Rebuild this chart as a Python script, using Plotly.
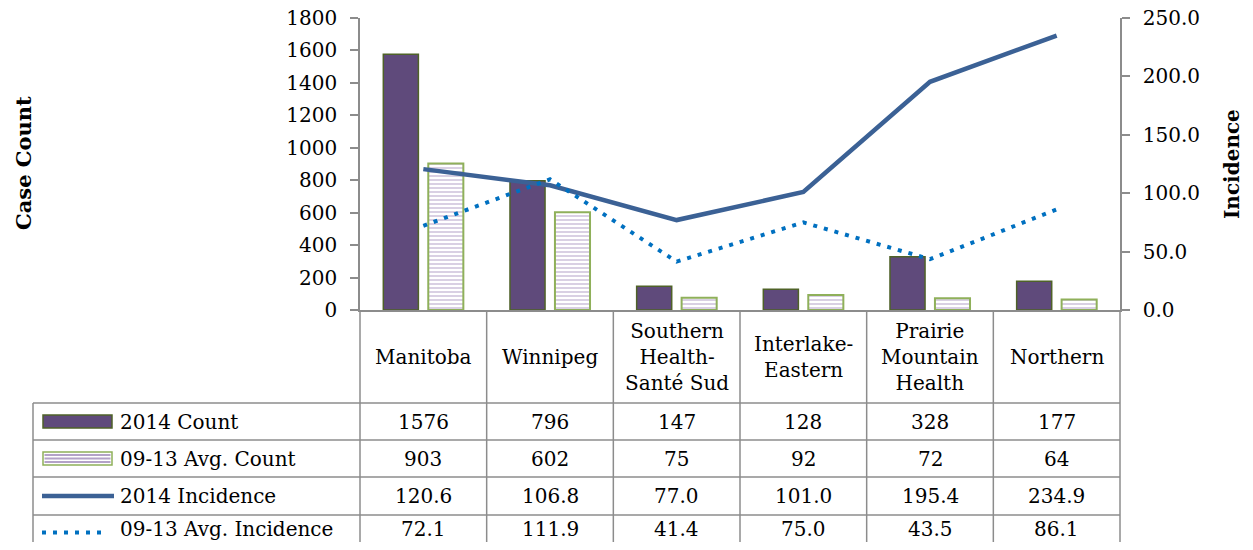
import plotly.graph_objects as go

# ---------------- data ----------------
categories = ["Manitoba", "Winnipeg", "Southern Health-Santé Sud",
              "Interlake-Eastern", "Prairie Mountain Health", "Northern"]
header_labels = ["Manitoba", "Winnipeg", "Southern<br>Health-<br>Santé Sud",
                 "Interlake-<br>Eastern", "Prairie<br>Mountain<br>Health", "Northern"]
count_2014 = [1576, 796, 147, 128, 328, 177]
count_avg = [903, 602, 75, 92, 72, 64]
inc_2014 = [120.6, 106.8, 77.0, 101.0, 195.4, 234.9]
inc_avg = [72.1, 111.9, 41.4, 75.0, 43.5, 86.1]
series_names = ["2014 Count", "09-13 Avg. Count", "2014 Incidence", "09-13 Avg. Incidence"]
left_ticks = [0, 200, 400, 600, 800, 1000, 1200, 1400, 1600, 1800]
right_ticks = [0, 50, 100, 150, 200, 250]

# ---------------- style ----------------
FONT = "DejaVu Serif"
PURPLE = "#5F4A7B"
PURPLE_EDGE = "#4F6228"
LAV = "#B3A2C7"
GREEN_EDGE = "#8FB05A"
LINE1 = "#3B6195"
LINE2 = "#0070C0"
GRID = "#8C8C8C"

# page offset (browser body margin)
OFF = 8
PAGE_W, PAGE_H = 1253, 550
W, H = PAGE_W - 2 * OFF, PAGE_H - 2 * OFF
# plot area in page pixels
PL, PR, PT, PB = 360, 1120, 18, 310
L = PL - OFF
T = PT - OFF
PW, PH = PR - PL, PB - PT
R = W - L - PW
B = H - T - PH


def X(px):
    return (px - PL) / PW


def Y(py):
    return (PB - py) / PH


fig = go.Figure()
fig.add_trace(go.Bar(
    x=categories, y=count_2014, name=series_names[0],
    marker=dict(color=PURPLE, line=dict(color=PURPLE_EDGE, width=1.5)),
))
fig.add_trace(go.Bar(
    x=categories, y=count_avg, name=series_names[1],
    marker=dict(color="white", line=dict(color=GREEN_EDGE, width=2),
                pattern=dict(shape="-", fgcolor=LAV, bgcolor="white", size=4, solidity=0.5)),
))
fig.add_trace(go.Scatter(
    x=categories, y=inc_2014, name=series_names[2], yaxis="y2", mode="lines",
    line=dict(color=LINE1, width=4.5),
))
fig.add_trace(go.Scatter(
    x=categories, y=inc_avg, name=series_names[3], yaxis="y2", mode="lines",
    line=dict(color=LINE2, width=4, dash="4px,7px"),
))

fig.update_layout(
    width=W, height=H,
    margin=dict(l=L, r=R, t=T, b=B, pad=0, autoexpand=False),
    paper_bgcolor="white", plot_bgcolor="white",
    showlegend=False,
    barmode="group", bargap=0.29, bargroupgap=0.22,
    font=dict(family=FONT, size=20, color="black"),
    xaxis=dict(range=[-0.5, 5.5], showticklabels=False, ticks="", automargin=False,
               showline=True, linecolor=GRID, linewidth=1.5, showgrid=False, zeroline=False),
    yaxis=dict(range=[0, 1800], tickvals=left_ticks, ticks="outside", ticklen=8, automargin=False,
               tickcolor=GRID, tickwidth=1.5, showline=True, linecolor=GRID, linewidth=1.5,
               showgrid=False, zeroline=False, ticklabelstandoff=9, ticklabeloverflow="allow",
               tickfont=dict(family=FONT, size=20)),
    yaxis2=dict(range=[0, 250], tickvals=right_ticks, tickformat=".1f", overlaying="y",
                side="right", ticks="outside", ticklen=8, tickcolor=GRID, tickwidth=1.5,
                showline=True, linecolor=GRID, linewidth=1.5, showgrid=False, zeroline=False,
                automargin=False, ticklabelstandoff=9, ticklabeloverflow="allow",
                tickfont=dict(family=FONT, size=20)),
)

shapes = []
annotations = []

# axis titles
annotations.append(dict(text="<b>Case Count</b>", x=X(23), y=Y(163), xref="paper", yref="paper",
                        textangle=-90, showarrow=False, font=dict(size=21, family=FONT),
                        xanchor="center", yanchor="middle"))
annotations.append(dict(text="<b>Incidence</b>", x=X(1232), y=Y(164), xref="paper", yref="paper",
                        textangle=-90, showarrow=False, font=dict(size=20, family=FONT),
                        xanchor="center", yanchor="middle"))

# table grid
row_lines = [403, 440, 477, 515]
tbl_left, tbl_bottom = 33, 560
line_style = dict(color=GRID, width=1.5)
for ry in row_lines:
    shapes.append(dict(type="line", xref="paper", yref="paper", x0=X(tbl_left), x1=1,
                       y0=Y(ry), y1=Y(ry), line=line_style, layer="above"))
shapes.append(dict(type="line", xref="paper", yref="paper", x0=X(tbl_left), x1=X(tbl_left),
                   y0=Y(row_lines[0]), y1=Y(tbl_bottom), line=line_style))
for i in range(len(categories) + 1):
    xp = i / len(categories)
    shapes.append(dict(type="line", xref="paper", yref="paper", x0=xp, x1=xp,
                       y0=0, y1=Y(tbl_bottom), line=line_style))

# header labels
for cat, lab in zip(categories, header_labels):
    annotations.append(dict(text=lab, x=cat, xref="x", y=Y((PB + row_lines[0]) / 2), yref="paper",
                            showarrow=False, xanchor="center", yanchor="middle",
                            font=dict(size=20, family=FONT)))

# table values
row_centers = [(row_lines[0] + row_lines[1]) / 2, (row_lines[1] + row_lines[2]) / 2,
               (row_lines[2] + row_lines[3]) / 2, 529]
rows = [
    [str(v) for v in count_2014],
    [str(v) for v in count_avg],
    [f"{v:.1f}" for v in inc_2014],
    [f"{v:.1f}" for v in inc_avg],
]
for rc, vals in zip(row_centers, rows):
    for cat, v in zip(categories, vals):
        annotations.append(dict(text=v, x=cat, xref="x", y=Y(rc), yref="paper", showarrow=False,
                                xanchor="center", yanchor="middle", font=dict(size=20, family=FONT)))

# legend column labels
for rc, name in zip(row_centers, series_names):
    annotations.append(dict(text=name, x=X(118), y=Y(rc), xref="paper", yref="paper",
                            showarrow=False, xanchor="left", yanchor="middle",
                            font=dict(size=20, family=FONT)))

# legend keys
k0, k1 = 43, 112
c = row_centers[0]
shapes.append(dict(type="rect", xref="paper", yref="paper", x0=X(k0), x1=X(k1),
                   y0=Y(c - 6.5), y1=Y(c + 6.5), fillcolor=PURPLE,
                   line=dict(color=PURPLE_EDGE, width=1.5)))
c = row_centers[1]
shapes.append(dict(type="rect", xref="paper", yref="paper", x0=X(k0), x1=X(k1),
                   y0=Y(c - 6.5), y1=Y(c + 6.5), fillcolor="white",
                   line=dict(color=GREEN_EDGE, width=1.5)))
for dy in (-3.5, 0, 3.5):
    shapes.append(dict(type="line", xref="paper", yref="paper", x0=X(k0 + 1.5), x1=X(k1 - 1.5),
                       y0=Y(c + dy), y1=Y(c + dy), line=dict(color=LAV, width=1.8)))
c = row_centers[2]
shapes.append(dict(type="line", xref="paper", yref="paper", x0=X(42), x1=X(114),
                   y0=Y(c), y1=Y(c), line=dict(color=LINE1, width=4.5)))
c = (row_lines[3] + 550) / 2
shapes.append(dict(type="line", xref="paper", yref="paper", x0=X(42), x1=X(108),
                   y0=Y(c), y1=Y(c), line=dict(color=LINE2, width=4, dash="4px,7px")))

fig.update_layout(shapes=shapes, annotations=annotations)
fig.write_html("out.html")
